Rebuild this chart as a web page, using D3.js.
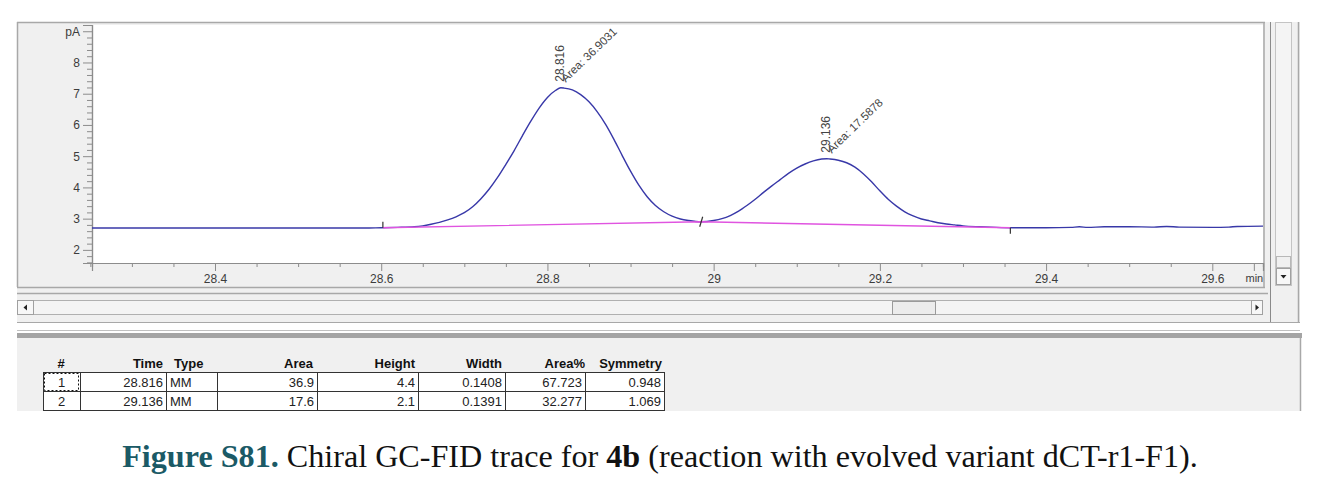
<!DOCTYPE html>
<html>
<head>
<meta charset="utf-8">
<script src="https://cdn.jsdelivr.net/npm/d3@7"></script>
<style>
    body { margin: 0; background: #fff; }
    svg { display: block; }
</style>
</head>
<body>
<div id="chart"></div>
<script>
// signal trace (min, pA)
var traceTime = [28.252, 28.30, 28.35, 28.40, 28.45, 28.50, 28.55, 28.58, 28.60, 28.62, 28.64, 28.65, 28.66, 28.67,
    28.68, 28.69, 28.70, 28.71, 28.72, 28.73, 28.74, 28.75, 28.76, 28.77, 28.78, 28.79, 28.80, 28.81, 28.816, 28.82,
    28.83, 28.84, 28.85, 28.86, 28.87, 28.88, 28.89, 28.90, 28.91, 28.92, 28.93, 28.94, 28.95, 28.96, 28.97, 28.985,
    29.00, 29.01, 29.02, 29.03, 29.04, 29.05, 29.06, 29.07, 29.08, 29.09, 29.10, 29.11, 29.12, 29.13, 29.136, 29.14,
    29.15, 29.16, 29.17, 29.18, 29.19, 29.20, 29.21, 29.22, 29.23, 29.24, 29.25, 29.26, 29.27, 29.28, 29.29, 29.30,
    29.32, 29.34, 29.36, 29.40, 29.43, 29.44, 29.45, 29.47, 29.50, 29.53, 29.545, 29.56, 29.60, 29.62, 29.63, 29.661];
var traceSignal = [2.70, 2.70, 2.70, 2.70, 2.70, 2.70, 2.70, 2.70, 2.71, 2.72, 2.74, 2.77, 2.82, 2.88,
    2.96, 3.06, 3.19, 3.38, 3.64, 3.95, 4.32, 4.74, 5.18, 5.66, 6.12, 6.54, 6.88, 7.11, 7.19, 7.18,
    7.12, 6.97, 6.74, 6.42, 6.02, 5.54, 5.02, 4.52, 4.07, 3.70, 3.42, 3.22, 3.08, 2.99, 2.94, 2.90,
    2.94, 3.00, 3.10, 3.24, 3.42, 3.62, 3.84, 4.05, 4.25, 4.45, 4.62, 4.75, 4.85, 4.91, 4.92, 4.91,
    4.87, 4.79, 4.65, 4.44, 4.18, 3.89, 3.62, 3.40, 3.22, 3.09, 2.99, 2.93, 2.87, 2.83, 2.80, 2.77,
    2.74, 2.72, 2.71, 2.71, 2.72, 2.74, 2.72, 2.74, 2.74, 2.73, 2.75, 2.73, 2.72, 2.73, 2.75, 2.76];

// integration baseline
var baselineTime = [28.602, 28.985, 29.357];
var baselineSignal = [2.71, 2.90, 2.71];

// peaks
var peakTimes = [28.816, 29.136];
var peakApex = [7.19, 4.92];
var peakTimeLabels = ["28.816", "29.136"];
var peakAreaLabels = ["Area: 36.9031", "Area: 17.5878"];

// axes
var xTicks = [28.4, 28.6, 28.8, 29, 29.2, 29.4, 29.6, 29.65];
var xTickLabels = ["28.4", "28.6", "28.8", "29", "29.2", "29.4", "29.6", "min"];
var yTicks = [2, 3, 4, 5, 6, 7, 8, 9];
var yTickLabels = ["2", "3", "4", "5", "6", "7", "8", "pA"];

// peak table
var tableHeaders = ["#", "Time", "Type", "Area", "Height", "Width", "Area%", "Symmetry"];
var rowNo = ["1", "2"];
var rowTime = ["28.816", "29.136"];
var rowType = ["MM", "MM"];
var rowArea = ["36.9", "17.6"];
var rowHeight = ["4.4", "2.1"];
var rowWidth = ["0.1408", "0.1391"];
var rowAreaPct = ["67.723", "32.277"];
var rowSymmetry = ["0.948", "1.069"];

var chart = {
    w: 1320,
    h: 490,
    left: 92,
    right: 1263,
    top: 25,
    bottom: 263,
    traceColor: "#3838a8",
    baseColor: "#e054e0",
    panel: "#f0f0f0",
    border: "#a8a8a8",
    font: "'Liberation Sans', Arial, sans-serif"
};

var svg = d3.select("#chart")
    .append("svg")
    .attr("width", chart.w)
    .attr("height", chart.h);

chart.xScale = d3.scaleLinear()
    .domain([28.252, 29.661])
    .range([chart.left, chart.right]);

chart.yScale = d3.scaleLinear()
    .domain([1.58, 9.2])
    .range([chart.bottom, chart.top]);

drawWindow();
drawAxes();
drawTrace();
drawTable();
drawCaption();

function hline(x1, x2, y, color, w) {
    svg.append("line")
        .attr("x1", x1).attr("x2", x2).attr("y1", y).attr("y2", y)
        .attr("stroke", color).attr("stroke-width", w || 1);
}

function vline(x, y1, y2, color, w) {
    svg.append("line")
        .attr("x1", x).attr("x2", x).attr("y1", y1).attr("y2", y2)
        .attr("stroke", color).attr("stroke-width", w || 1);
}

function drawWindow() {
    // grey panel behind the plot
    svg.append("rect")
        .attr("x", 17).attr("y", 22).attr("width", 1283).attr("height", 300)
        .attr("fill", chart.panel);

    // white plot area
    svg.append("rect")
        .attr("x", chart.left).attr("y", chart.top)
        .attr("width", chart.right - chart.left).attr("height", chart.bottom - chart.top)
        .attr("fill", "#fff");

    hline(17, 1265, 22.5, chart.border, 1.5);
    vline(17.5, 22, 287, chart.border, 1.5);
    hline(17, 1265, 287.5, chart.border, 1.5);
    vline(1264, 22, 287, chart.border, 1.5);
    vline(1270.5, 22, 322, "#8a8a8a", 1);
    vline(1298.5, 22, 322, chart.border, 1.5);

    // vertical scrollbar
    svg.append("rect")
        .attr("x", 1275.5).attr("y", 22.5).attr("width", 16).attr("height", 263)
        .attr("fill", "#f4f4f4").attr("stroke", "#c4c4c4");
    svg.append("rect")
        .attr("x", 1276.5).attr("y", 256.5).attr("width", 14).attr("height", 11)
        .attr("fill", "#f0f0f0").attr("stroke", "#b8b8b8");
    svg.append("rect")
        .attr("x", 1276.5).attr("y", 268.5).attr("width", 14).attr("height", 16)
        .attr("fill", "#f7f7f7").attr("stroke", "#a0a0a0");
    svg.append("path")
        .attr("d", "M1280.5,275 L1286.5,275 L1283.5,278.5 Z")
        .attr("fill", "#222");

    // horizontal scrollbar
    hline(17, 1268, 293.5, chart.border, 1.5);
    svg.append("rect")
        .attr("x", 17.5).attr("y", 300.5).attr("width", 1245).attr("height", 14)
        .attr("fill", "#f4f4f4").attr("stroke", "#b0b0b0");
    svg.append("rect")
        .attr("x", 17.5).attr("y", 300.5).attr("width", 16).attr("height", 14)
        .attr("fill", "#f7f7f7").attr("stroke", "#a0a0a0");
    svg.append("path")
        .attr("d", "M23.5,307.5 L27,304.5 L27,310.5 Z")
        .attr("fill", "#222");
    svg.append("rect")
        .attr("x", 1251.5).attr("y", 300.5).attr("width", 11).attr("height", 14)
        .attr("fill", "#f7f7f7").attr("stroke", "#a0a0a0");
    svg.append("path")
        .attr("d", "M1259,307.5 L1255.5,304.5 L1255.5,310.5 Z")
        .attr("fill", "#222");
    svg.append("rect")
        .attr("x", 892.5).attr("y", 301.5).attr("width", 43).attr("height", 13)
        .attr("fill", "#ececec").attr("stroke", "#9a9a9a");

    hline(17, 1300, 322.5, chart.border, 1);
    hline(17, 1300, 330.5, "#c0c0c0", 1);

    // splitter band
    svg.append("rect")
        .attr("x", 17).attr("y", 333).attr("width", 1285).attr("height", 5)
        .attr("fill", "#a4a4a4");

    // table panel
    svg.append("rect")
        .attr("x", 17).attr("y", 338).attr("width", 1283).attr("height", 73)
        .attr("fill", chart.panel);
    vline(1300.5, 338, 411, chart.border, 1.5);
}

function drawAxes() {
    var minorX = d3.range(28.25, 29.66, 0.05).filter(function (d) {
        return xTicks.every(function (t) { return Math.abs(t - d) > 0.001; });
    });
    var minorY = d3.range(1.6, 9.21, 0.2).filter(function (d) {
        return yTicks.every(function (t) { return Math.abs(t - d) > 0.001; });
    });

    var xAxis = d3.axisBottom(chart.xScale)
        .tickValues(xTicks)
        .tickSize(8)
        .tickPadding(3)
        .tickFormat(function (d, i) { return xTickLabels[i]; });

    var xMinor = d3.axisBottom(chart.xScale)
        .tickValues(minorX)
        .tickSize(4)
        .tickFormat("");

    var yAxis = d3.axisLeft(chart.yScale)
        .tickValues(yTicks)
        .tickSize(9)
        .tickPadding(3)
        .tickFormat(function (d, i) { return yTickLabels[i]; });

    var yMinor = d3.axisLeft(chart.yScale)
        .tickValues(minorY)
        .tickSize(5)
        .tickFormat("");

    var gx = svg.append("g")
        .attr("transform", "translate(0," + chart.bottom + ")");
    gx.append("g").call(xMinor);
    gx.append("g").call(xAxis);

    var gy = svg.append("g")
        .attr("transform", "translate(" + chart.left + ",0)");
    gy.append("g").call(yMinor);
    gy.append("g").call(yAxis);

    svg.selectAll(".domain").attr("stroke", "#8c8c8c").attr("stroke-width", 1.2);
    svg.selectAll(".tick line").attr("stroke", "#8c8c8c");
    svg.selectAll(".tick text")
        .attr("fill", "#3c3c3c")
        .style("font-family", chart.font)
        .style("font-size", "12px");
    gx.selectAll(".tick text")
        .filter(function (d) { return d === 29.65; })
        .style("font-size", "11px");
}

function drawTrace() {
    var line = d3.line()
        .x(function (d) { return chart.xScale(d.t); })
        .y(function (d) { return chart.yScale(d.v); })
        .curve(d3.curveMonotoneX);

    var trace = traceTime.map(function (t, i) { return {t: t, v: traceSignal[i]}; });
    var base = baselineTime.map(function (t, i) { return {t: t, v: baselineSignal[i]}; });

    svg.append("path")
        .datum(trace)
        .attr("fill", "none")
        .attr("stroke", chart.traceColor)
        .attr("stroke-width", 1.4)
        .attr("d", line);

    svg.append("path")
        .datum(base)
        .attr("fill", "none")
        .attr("stroke", chart.baseColor)
        .attr("stroke-width", 1.4)
        .attr("d", d3.line()
            .x(function (d) { return chart.xScale(d.t); })
            .y(function (d) { return chart.yScale(d.v); }));

    // integration marks: start, valley drop, end
    base.forEach(function (d, i) {
        var x = chart.xScale(d.t), y = chart.yScale(d.v);
        var y1 = i == 0 ? y - 6 : (i == 1 ? y - 5 : y);
        var y2 = i == 0 ? y : (i == 1 ? y + 5 : y + 6);
        var dx = i == 1 ? 1.5 : 0;
        svg.append("line")
            .attr("x1", x + dx).attr("x2", x - dx)
            .attr("y1", y1).attr("y2", y2)
            .attr("stroke", "#333").attr("stroke-width", 1.2);
    });

    peakTimes.forEach(function (t, i) {
        var px = chart.xScale(t), py = chart.yScale(peakApex[i]);
        svg.append("text")
            .attr("transform", "translate(" + (px + 3) + "," + (py - 6) + ") rotate(-90)")
            .attr("fill", "#444")
            .style("font-family", chart.font)
            .style("font-size", "12px")
            .text(peakTimeLabels[i]);
        svg.append("text")
            .attr("transform", "translate(" + (px + 5) + "," + (py - 5) + ") rotate(-44)")
            .attr("fill", "#444")
            .style("font-family", chart.font)
            .style("font-size", "11.5px")
            .text(peakAreaLabels[i]);
    });
}

function drawTable() {
    var cols = [43, 80, 166, 217, 317, 418, 505, 585, 664];
    var rowTop = [372, 391];
    var rowH = 19;

    // header labels, right aligned except # and Type
    var headAnchor = ["middle", "end", "start", "end", "end", "end", "end", "end"];
    var headX = [61, 163, 174, 313, 415, 502, 585, 662];
    tableHeaders.forEach(function (h, i) {
        svg.append("text")
            .attr("x", headX[i]).attr("y", 368)
            .attr("text-anchor", headAnchor[i])
            .attr("fill", "#111")
            .style("font-family", chart.font)
            .style("font-weight", "bold")
            .style("font-size", "13px")
            .text(h);
    });

    var columns = [rowNo, rowTime, rowType, rowArea, rowHeight, rowWidth, rowAreaPct, rowSymmetry];
    rowNo.forEach(function (n, r) {
        svg.append("rect")
            .attr("x", cols[0] + 0.5).attr("y", rowTop[r] + 0.5)
            .attr("width", cols[cols.length - 1] - cols[0]).attr("height", rowH)
            .attr("fill", "#fff").attr("stroke", "#333");

        columns.forEach(function (col, c) {
            var anchor = c == 0 ? "middle" : (c == 2 ? "start" : "end");
            var x = c == 0 ? (cols[0] + cols[1]) / 2 : (c == 2 ? cols[2] + 4 : cols[c + 1] - 3);
            svg.append("text")
                .attr("x", x).attr("y", rowTop[r] + 15)
                .attr("text-anchor", anchor)
                .attr("fill", "#222")
                .style("font-family", "'Liberation Sans Narrow', 'Liberation Sans', Arial, sans-serif")
                .style("font-size", "13px")
                .text(col[r]);
        });
    });

    cols.slice(1, -1).forEach(function (x) {
        vline(x + 0.5, rowTop[0], rowTop[1] + rowH, "#333", 1);
    });

    // focus rectangle on the first cell
    svg.append("rect")
        .attr("x", cols[0] + 1.5).attr("y", rowTop[0] + 1.5)
        .attr("width", cols[1] - cols[0] - 3).attr("height", rowH - 2)
        .attr("fill", "none").attr("stroke", "#111")
        .attr("stroke-dasharray", "2,2");
}

function drawCaption() {
    var cap = svg.append("text")
        .attr("x", 660).attr("y", 467)
        .attr("text-anchor", "middle")
        .style("font-family", "'Liberation Serif', 'DejaVu Serif', serif")
        .style("font-size", "24px")
        .attr("fill", "#111");

    cap.append("tspan").attr("fill", "#1b5a66").style("font-weight", "bold").text("Figure S81.");
    cap.append("tspan").text(" Chiral GC-FID trace for ");
    cap.append("tspan").style("font-weight", "bold").text("4b");
    cap.append("tspan").text(" (reaction with evolved variant dCT-r1-F1).");

    var len = cap.node().getComputedTextLength();
    cap.style("font-size", (24 * 1076 / len) + "px");
}
</script>
</body>
</html>
